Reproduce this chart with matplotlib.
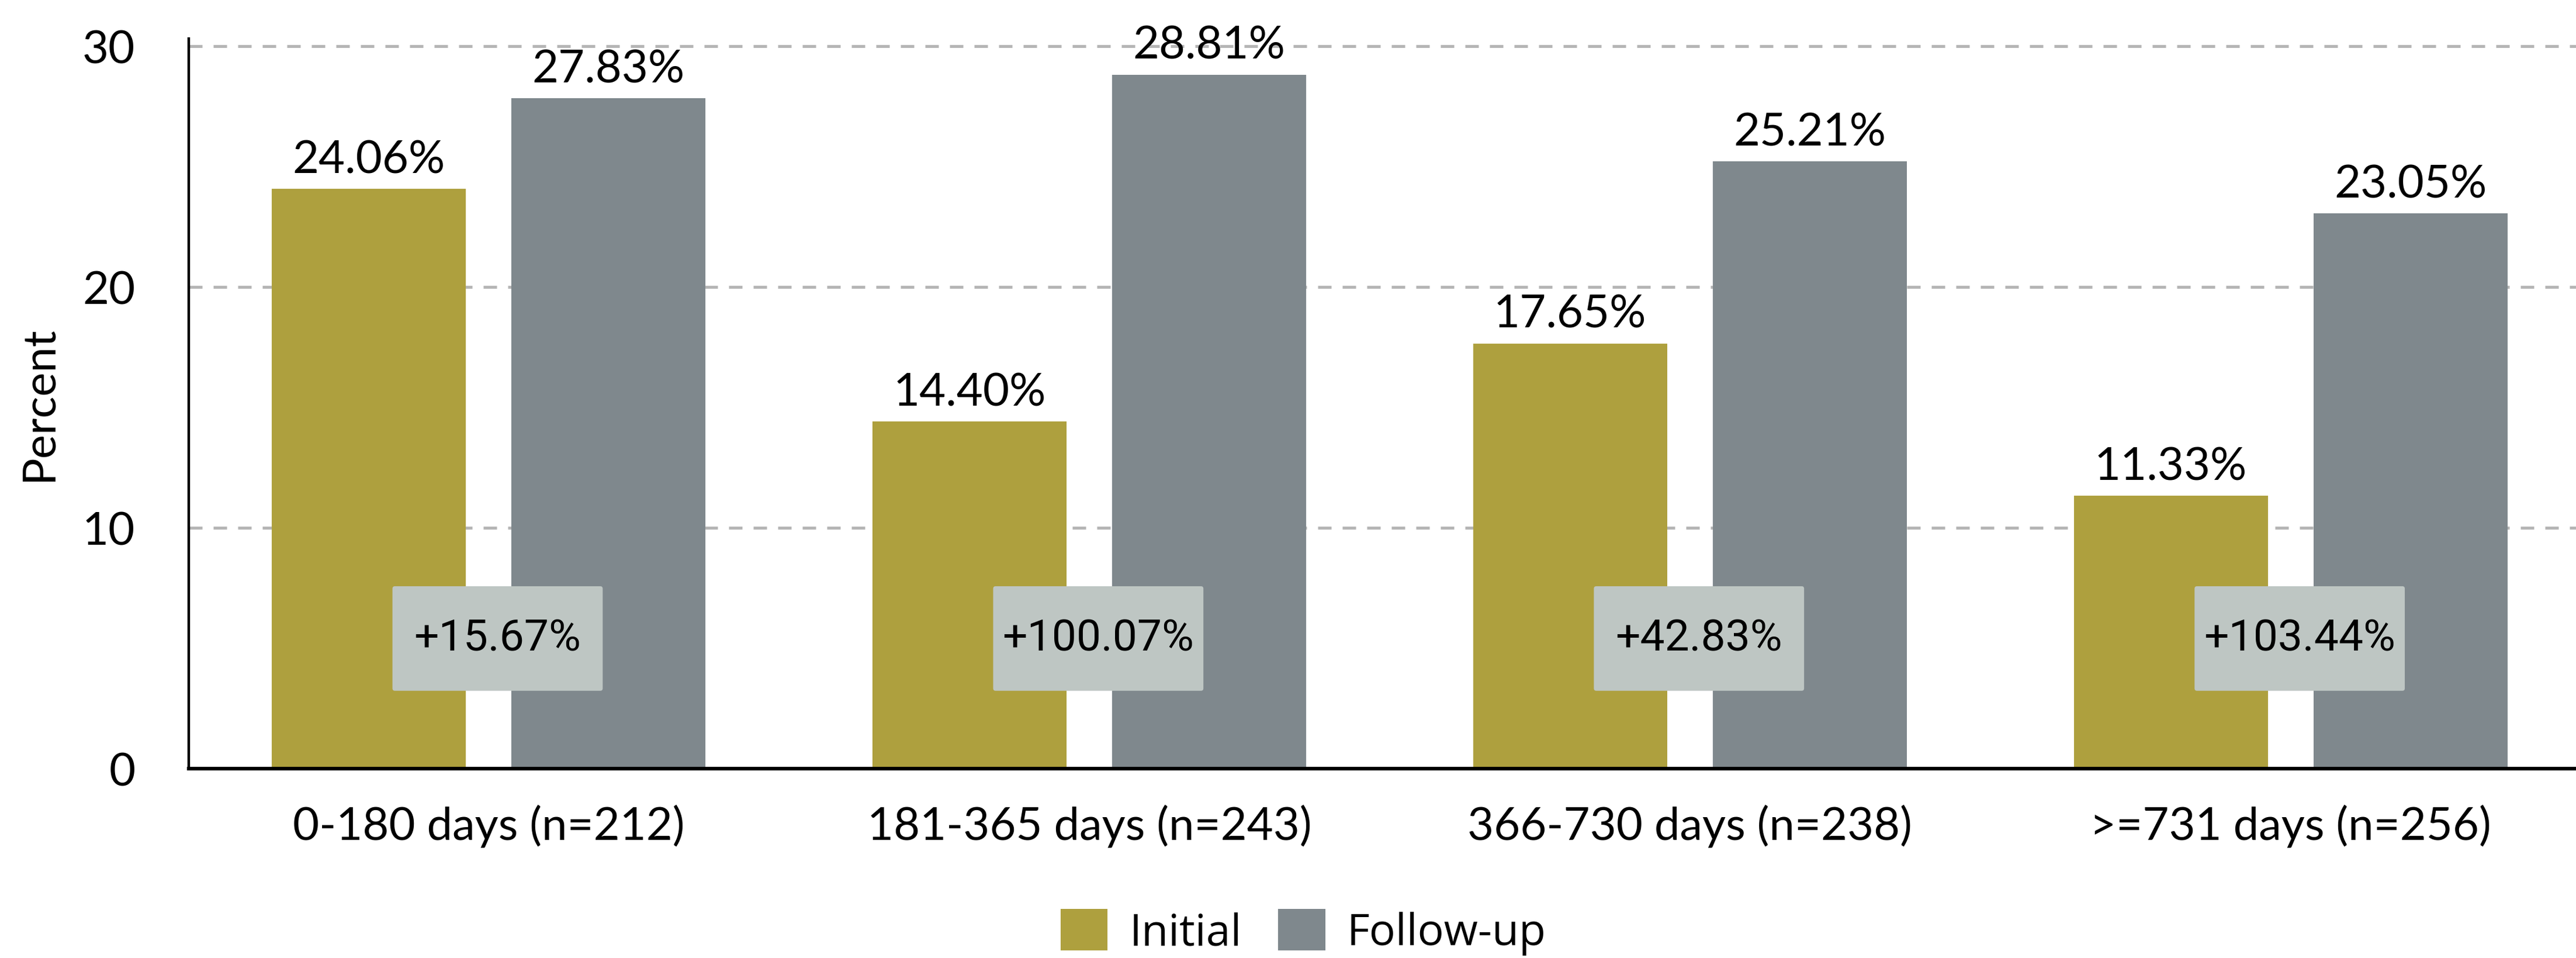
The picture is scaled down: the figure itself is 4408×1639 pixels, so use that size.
import matplotlib
matplotlib.use("Agg")
import matplotlib.pyplot as plt
from matplotlib.patches import FancyBboxPatch, Patch
import numpy as np

# data
categories = ["0-180 days (n=212)", "181-365 days (n=243)", "366-730 days (n=238)", ">=731 days (n=256)"]
initial = [24.06, 14.40, 17.65, 11.33]
follow_up = [27.83, 28.81, 25.21, 23.05]
change_labels = ["+15.67%", "+100.07%", "+42.83%", "+103.44%"]
series_names = ["Initial", "Follow-up"]
yticks = [0, 10, 20, 30]

c_init = "#aea03e"
c_follow = "#7f888d"
c_box = "#bec6c3"

plt.rcParams['font.family'] = ['Lato', 'DejaVu Sans']

fig = plt.figure(figsize=(22.04, 8.2), dpi=200)
ax = fig.add_axes([0.0733, 0.1976, 1 - 0.0733, 0.959 - 0.1976])

x = np.arange(len(categories))
width = 0.323
off = 0.1995

b1 = ax.bar(x - off, initial, width, color=c_init, zorder=3)
b2 = ax.bar(x + off, follow_up, width, color=c_follow, zorder=3)

# value labels above bars
for bars, vals in ((b1, initial), (b2, follow_up)):
    for rect, v in zip(bars, vals):
        ax.annotate(f"{v:.2f}%", (rect.get_x() + rect.get_width() / 2, v),
                    xytext=(0, 10), textcoords="offset points",
                    ha="center", va="baseline", fontsize=28, zorder=5)

# change boxes
box_w = 0.35
box_lo, box_hi = 3.23, 7.57
for xi, lab in zip(x, change_labels):
    cx = xi + 0.015
    p = FancyBboxPatch((cx - box_w / 2, box_lo), box_w, box_hi - box_lo,
                       boxstyle="round,pad=0,rounding_size=0.004",
                       mutation_aspect=25, facecolor=c_box, edgecolor="none", zorder=4)
    ax.add_patch(p)
    ax.text(cx, (box_lo + box_hi) / 2, lab, ha="center", va="center", fontsize=27,
            family=['Roboto', 'DejaVu Sans'], zorder=5)

ax.set_xlim(-0.499, 3.475)
ax.set_ylim(0, 30.3)
ax.set_yticks(yticks)
ax.set_xticks(x)
ax.set_xticklabels(categories)
ax.tick_params(axis="both", length=0, labelsize=28)
ax.tick_params(axis="y", pad=33)
ax.tick_params(axis="x", pad=22)

for yv in yticks[1:]:
    ln = ax.axhline(yv, color="#b5b5b5", lw=1.8, zorder=1)
    ln.set_dashes((4.6, 3.8))

for s in ("top", "right"):
    ax.spines[s].set_visible(False)
ax.spines["left"].set_linewidth(1.6)
ax.spines["bottom"].set_linewidth(2.2)
ax.spines["bottom"].set_zorder(6)

fig.text(67 / 4408, 0.579, "Percent", rotation=90, ha="center", va="center", fontsize=28)

handles = [Patch(facecolor=c_init, edgecolor="none"), Patch(facecolor=c_follow, edgecolor="none")]
fig.legend(handles, series_names, loc="center", bbox_to_anchor=(0.506, 0.027), ncol=2,
           frameon=False, prop={"family": ["Open Sans", "DejaVu Sans"], "size": 27},
           handlelength=1.07, handleheight=1.07, handletextpad=0.5, columnspacing=0.83)

fig.savefig("out.png", dpi=200)
